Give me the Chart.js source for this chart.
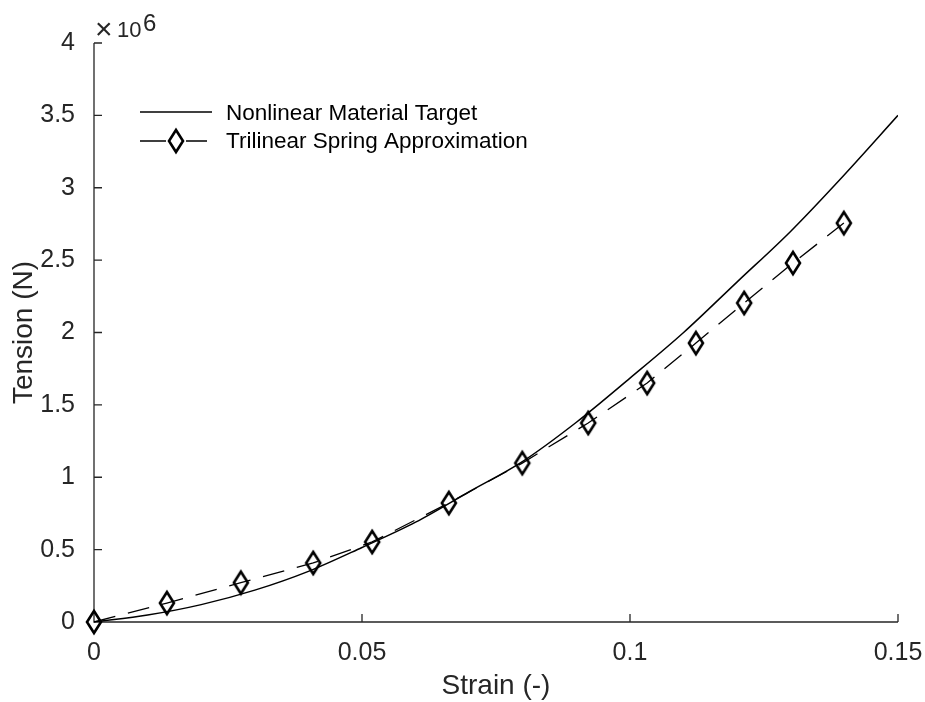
<!DOCTYPE html>
<html>
<head>
<meta charset="utf-8">
<script src="https://cdn.jsdelivr.net/npm/chart.js@4.4.1/dist/chart.umd.min.js"></script>
<style>
    html, body { margin: 0; padding: 0; background: #fff; }
</style>
</head>
<body>
<canvas id="canvasChart" width="925" height="702"></canvas>
<script>
// curva alvo (material nao linear)
const alvoStrain = [0, 0.01, 0.02, 0.03, 0.04, 0.05, 0.06, 0.07, 0.08, 0.09, 0.10, 0.11, 0.12, 0.13, 0.14, 0.15];
const alvoTension = [0, 0.048e6, 0.12e6, 0.22e6, 0.35e6, 0.515e6, 0.69e6, 0.90e6, 1.11e6, 1.38e6, 1.685e6, 2.0e6, 2.35e6, 2.70e6, 3.09e6, 3.50e6];

// aproximacao trilinear (marcadores)
const molaStrain = [0, 0.0136, 0.0274, 0.0409, 0.0519, 0.0662, 0.0799, 0.0922, 0.1032, 0.1123, 0.1213, 0.1304, 0.1399];
const molaTension = [0, 0.131e6, 0.272e6, 0.408e6, 0.553e6, 0.822e6, 1.098e6, 1.375e6, 1.651e6, 1.927e6, 2.204e6, 2.480e6, 2.756e6];

const xTicks = [0, 0.05, 0.1, 0.15];
const yTicks = [0, 0.5e6, 1e6, 1.5e6, 2e6, 2.5e6, 3e6, 3.5e6, 4e6];

const LABELS = ['Nonlinear Material Target', 'Trilinear Spring Approximation'];

const FONTE = '"Liberation Sans", Arial, Helvetica, sans-serif';
const COR_EIXO = '#262626';

// marcador losango (mais alto que largo, como no matlab)
const marcador = document.createElement('canvas');
marcador.width = 20;
marcador.height = 28;
const m = marcador.getContext('2d');
m.strokeStyle = '#000';
m.lineWidth = 2.6;
m.beginPath();
m.moveTo(10, 3);
m.lineTo(17, 14);
m.lineTo(10, 25);
m.lineTo(3, 14);
m.closePath();
m.stroke();

const pontos = (xs, ys) => xs.map((x, i) => ({ x, y: ys[i] }));

// eixos com ticks para dentro
const eixos = {
    id: 'eixos',
    beforeDatasetsDraw(chart) {
        const { ctx, chartArea, scales } = chart;
        ctx.save();
        ctx.strokeStyle = COR_EIXO;
        ctx.lineWidth = 1.3;
        ctx.beginPath();
        ctx.moveTo(chartArea.left, chartArea.top);
        ctx.lineTo(chartArea.left, chartArea.bottom);
        ctx.lineTo(chartArea.right, chartArea.bottom);
        xTicks.forEach(v => {
            const px = scales.x.getPixelForValue(v);
            ctx.moveTo(px, chartArea.bottom);
            ctx.lineTo(px, chartArea.bottom - 8);
        });
        yTicks.forEach(v => {
            const py = scales.y.getPixelForValue(v);
            ctx.moveTo(chartArea.left, py);
            ctx.lineTo(chartArea.left + 8, py);
        });
        ctx.stroke();
        ctx.restore();
    },
    afterDraw(chart) {
        const { ctx, chartArea } = chart;
        ctx.save();
        ctx.fillStyle = COR_EIXO;
        ctx.textBaseline = 'alphabetic';
        ctx.font = '30px ' + FONTE;
        ctx.fillText('\u00d7', chartArea.left + 1, 39);
        ctx.font = '22px ' + FONTE;
        ctx.fillText('10', 117, 37);
        ctx.font = '24px ' + FONTE;
        ctx.fillText('6', 143, 31);

        // legenda
        ctx.strokeStyle = '#000';
        ctx.lineWidth = 1.5;
        ctx.beginPath();
        ctx.moveTo(140, 112);
        ctx.lineTo(212, 112);
        ctx.stroke();
        ctx.lineWidth = 1.3;
        ctx.beginPath();
        ctx.moveTo(140, 141);
        ctx.lineTo(166, 141);
        ctx.moveTo(186, 141);
        ctx.lineTo(207, 141);
        ctx.stroke();
        ctx.drawImage(marcador, 176 - 10, 141 - 14);

        ctx.fillStyle = '#000';
        ctx.textBaseline = 'middle';
        ctx.font = '22.5px ' + FONTE;
        ctx.fillText(chart.data.datasets[0].label, 226, 114);
        ctx.fillText(chart.data.datasets[1].label, 226, 142);
        ctx.restore();
    }
};

const grafico = () => {
    let ctx = document.querySelector('#canvasChart');
    let myChart = new Chart(ctx, {
        type: 'line',
        data: {
            datasets: [
                {
                    label: LABELS[0],
                    data: pontos(alvoStrain, alvoTension),
                    borderColor: '#000',
                    borderWidth: 1.5,
                    pointRadius: 0,
                    fill: false,
                    cubicInterpolationMode: 'monotone'
                },
                {
                    label: LABELS[1],
                    data: pontos(molaStrain, molaTension),
                    borderColor: '#000',
                    borderWidth: 1.3,
                    borderDash: [22, 13],
                    pointStyle: marcador,
                    pointRadius: 9,
                    fill: false,
                    tension: 0,
                    clip: false
                }
            ]
        },
        options: {
            responsive: false,
            animation: false,
            devicePixelRatio: 1,
            layout: {
                padding: { left: 0, top: 43, right: 27, bottom: 0 }
            },
            plugins: {
                legend: { display: false },
                tooltip: { enabled: false }
            },
            scales: {
                x: {
                    type: 'linear',
                    min: 0,
                    max: 0.15,
                    grid: { display: false },
                    border: { display: false },
                    afterBuildTicks: s => { s.ticks = xTicks.map(value => ({ value })); },
                    ticks: {
                        padding: 8,
                        maxRotation: 0,
                        color: COR_EIXO,
                        font: { family: FONTE, size: 25 },
                        callback: v => String(parseFloat(v.toFixed(4)))
                    },
                    title: {
                        display: true,
                        text: 'Strain (-)',
                        color: COR_EIXO,
                        font: { family: FONTE, size: 28, lineHeight: 1.1 },
                        padding: 0
                    },
                    afterFit: s => {
                        s.height = 80;
                        s.paddingLeft = 0;
                        s.paddingRight = 0;
                    }
                },
                y: {
                    type: 'linear',
                    min: 0,
                    max: 4e6,
                    grid: { display: false },
                    border: { display: false },
                    afterBuildTicks: s => { s.ticks = yTicks.map(value => ({ value })); },
                    ticks: {
                        padding: 11,
                        color: COR_EIXO,
                        font: { family: FONTE, size: 25 },
                        callback: v => String(v / 1e6)
                    },
                    title: {
                        display: true,
                        text: 'Tension (N)',
                        color: COR_EIXO,
                        font: { family: FONTE, size: 28, lineHeight: 1.2 },
                        padding: { top: 7, bottom: 0 }
                    },
                    afterFit: s => {
                        s.width = 94;
                        s.paddingTop = 0;
                        s.paddingBottom = 0;
                    }
                }
            }
        },
        plugins: [eixos]
    });
};

grafico();
</script>
</body>
</html>
